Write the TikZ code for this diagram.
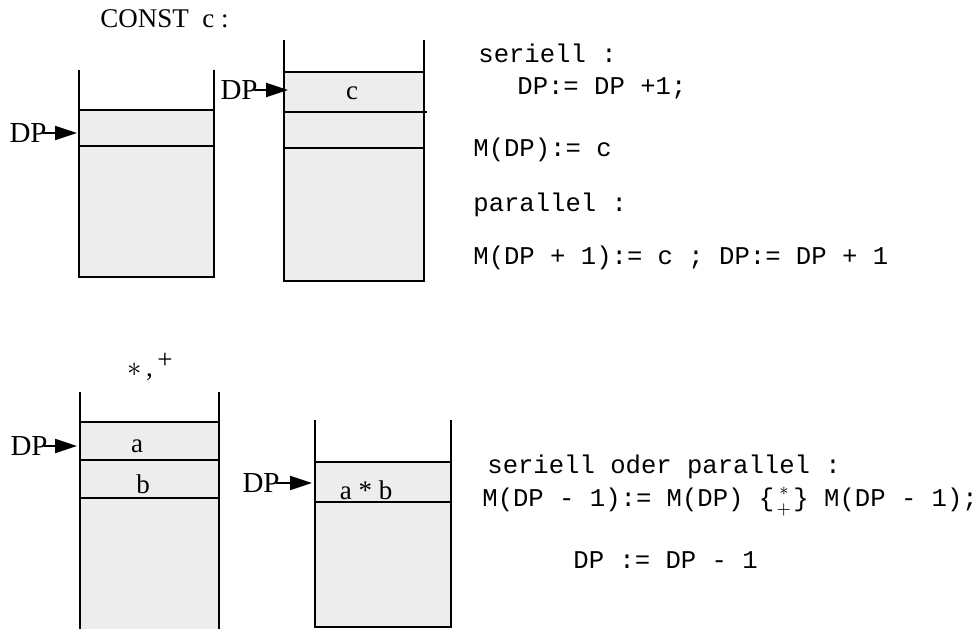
\documentclass[tikz,border=0pt]{standalone}
\usepackage{fontspec}
\setmainfont{Liberation Serif}
\setmonofont{Liberation Mono}
\usetikzlibrary{arrows.meta}

\begin{document}
\begin{tikzpicture}[x=0.5pt,y=-0.5pt,
  wall/.style={line width=1pt},
  cellfill/.style={fill=black!7},
  lbl/.style={inner sep=0pt,font=\fontsize{13.5}{16}\selectfont},
  code/.style={inner sep=0pt,anchor=west,font=\fontsize{12.8}{15}\ttfamily},
  dparrow/.style={line width=1pt,-{Triangle[length=11pt,width=7pt]}}]
\useasboundingbox (0,0) rectangle (978,629);

% CONST c
\node[lbl,anchor=west] (const) at (100,19) {CONST\ \ c :};

\fill[cellfill] (79,110) rectangle (214,277);
\draw[wall] (79,70) -- (79,277) -- (214,277) -- (214,70);
\draw[wall] (79,110) -- (214,110);
\draw[wall] (79,146) -- (214,146);
\node[lbl,font=\fontsize{14.5}{16}\selectfont,anchor=east] (dpa) at (47,133) {DP};
\coordinate (wa) at (77,133);
\draw[dparrow] ([xshift=-2pt]dpa.east) -- (wa);

\fill[cellfill] (284,72) rectangle (424,281);
\draw[wall] (284,40) -- (284,281) -- (424,281) -- (424,40);
\draw[wall] (284,72) -- (424,72);
\draw[wall] (284,112) -- (427,112);
\draw[wall] (284,148) -- (424,148);
\node[lbl] (c) at (352,93) {c};
\node[lbl,font=\fontsize{14.5}{16}\selectfont,anchor=east] (dpb) at (258,90) {DP};
\coordinate (wb) at (288,90);
\draw[dparrow] ([xshift=-2pt]dpb.east) -- (wb);

\node[code] (ser1) at (478,53) {seriell :};
\node[code] (ser2) at (517,88) {DP:= DP +1;};
\node[code] (ser3) at (473,150) {M(DP):= c};
\node[code] (par1) at (473,205) {parallel :};
\node[code] (par2) at (473,258) {M(DP + 1):= c ; DP:= DP + 1};

% * , +
\node[lbl] (ops) at (150,367) {$\ast$\,,\,\raisebox{0.7ex}{+}};

\fill[cellfill] (80,422) rectangle (219,629);
\draw[wall] (80,392) -- (80,629);
\draw[wall] (219,392) -- (219,629);
\draw[wall] (80,422) -- (219,422);
\draw[wall] (80,460) -- (219,460);
\draw[wall] (80,498) -- (219,498);
\node[lbl] (a) at (137,446) {a};
\node[lbl] (b) at (143,484) {b};
\node[lbl,font=\fontsize{14.5}{16}\selectfont,anchor=east] (dpc) at (48,446) {DP};
\coordinate (wc) at (77,446);
\draw[dparrow] ([xshift=-2pt]dpc.east) -- (wc);

\fill[cellfill] (315,462) rectangle (451,627);
\draw[wall] (315,420) -- (315,627) -- (451,627) -- (451,420);
\draw[wall] (315,462) -- (451,462);
\draw[wall] (315,502) -- (451,502);
\node[lbl] (ab) at (366,490) {a * b};
\node[lbl,font=\fontsize{14.5}{16}\selectfont,anchor=east] (dpd) at (280,483) {DP};
\coordinate (wd) at (312,483);
\draw[dparrow] ([xshift=-2pt]dpd.east) -- (wd);

\node[code] (bot1) at (487,467) {seriell oder parallel :};
\node[code] (bot2) at (482,502) {M(DP - 1):= M(DP) \{${\scriptstyle\ast\atop\scriptstyle +}$\} M(DP - 1);};
\node[code] (bot3) at (573,560) {DP := DP - 1};
\end{tikzpicture}
\end{document}
